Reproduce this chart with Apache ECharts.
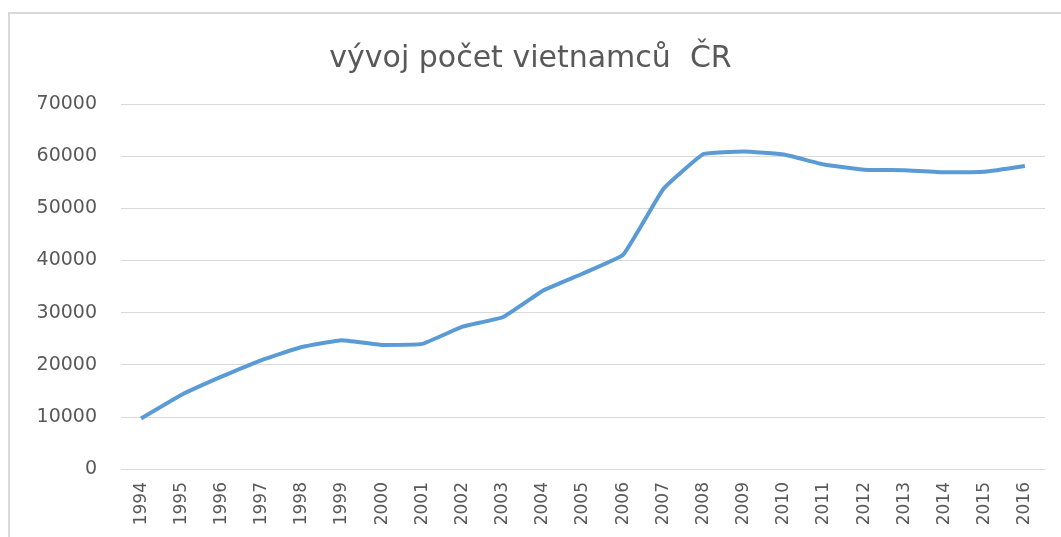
<!DOCTYPE html>
<html>
<head>
<meta charset="utf-8">
<script src="https://cdn.jsdelivr.net/npm/echarts@6/dist/echarts.min.js"></script>
<style>
  html, body { margin: 0; padding: 0; background: #fff; }
  #chart { width: 1061px; height: 537px; }
</style>
</head>
<body>
<div id="chart"></div>
<script>
const years = ['1994', '1995', '1996', '1997', '1998', '1999', '2000', '2001', '2002', '2003', '2004', '2005',
  '2006', '2007', '2008', '2009', '2010', '2011', '2012', '2013', '2014', '2015', '2016'];
const counts = [9700, 14200, 17700, 20900, 23400, 24700, 23800, 24000, 27300, 29100, 34200, 37500,
  41100, 53700, 60400, 60900, 60300, 58400, 57400, 57300, 56900, 57000, 58100];

const textColor = '#595959';
const font = 'DejaVu Sans';

const chartDom = echarts.init(document.getElementById('chart'));
const option = {
  animation: false,
  title: {
    text: 'vývoj počet vietnamců  ČR',
    left: 'center',
    top: 39,
    textStyle: {
      color: textColor,
      fontSize: 30,
      fontWeight: 'normal',
      fontFamily: font
    }
  },
  graphic: [{
    type: 'rect',
    shape: { x: 9, y: 13, width: 1100, height: 600 },
    style: { fill: 'none', stroke: '#d9d9d9', lineWidth: 2 },
    silent: true
  }],
  grid: {
    left: 121,
    right: 16,
    top: 104,
    bottom: 68
  },
  xAxis: {
    type: 'category',
    data: years,
    boundaryGap: true,
    axisLine: { lineStyle: { color: '#d9d9d9' } },
    axisTick: { show: false },
    axisLabel: {
      rotate: 90,
      interval: 0,
      margin: 13,
      color: textColor,
      fontSize: 17,
      fontFamily: font
    }
  },
  yAxis: {
    type: 'value',
    min: 0,
    max: 70000,
    interval: 10000,
    axisLine: { show: false },
    axisTick: { show: false },
    splitLine: { lineStyle: { color: '#d9d9d9', width: 1 } },
    axisLabel: {
      margin: 24,
      color: textColor,
      fontSize: 19,
      fontFamily: font,
      formatter: function (v) { return String(v); }
    }
  },
  series: [{
    type: 'line',
    data: counts,
    symbol: 'none',
    smooth: 0.1,
    lineStyle: {
      color: '#5B9BD5',
      width: 4
    }
  }]
};
chartDom.setOption(option);
</script>
</body>
</html>
